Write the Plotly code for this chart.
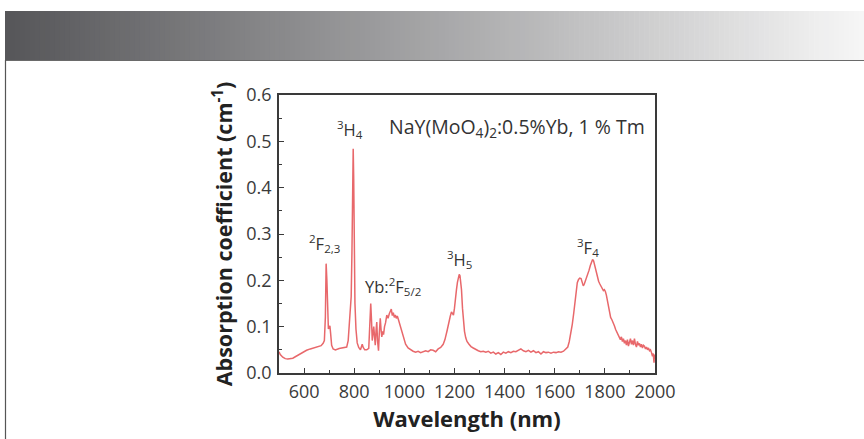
import plotly.graph_objects as go

# Absorption spectrum of NaY(MoO4)2:0.5%Yb, 1% Tm
wavelength_nm = [
    500, 505, 515, 525, 535, 545, 555, 565, 580, 595, 610, 625, 640, 655, 668, 676, 681, 685,
    688, 691, 694, 697, 700, 703, 706, 710, 716, 725, 740, 755, 770, 776, 781, 785, 788, 791,
    794, 796, 798, 800, 803, 807, 812, 818, 825, 832, 836, 842, 850, 858, 862, 866, 869, 872,
    875, 878, 881, 884, 887, 890, 893, 897, 900, 904, 907, 910, 914, 917, 921, 925, 930, 935,
    940, 944, 948, 952, 956, 960, 964, 968, 972, 976, 980, 985, 990, 997, 1005, 1015, 1025,
    1035, 1045, 1055, 1065, 1075, 1085, 1095, 1105, 1115, 1125, 1135, 1145, 1155, 1162, 1170,
    1177, 1183, 1188, 1192, 1196, 1200, 1204, 1208, 1212, 1216, 1219, 1222, 1225, 1228, 1232,
    1236, 1240, 1245, 1250, 1258, 1266, 1275, 1285, 1295, 1305, 1315, 1325, 1335, 1345, 1355,
    1365, 1375, 1385, 1395, 1405, 1415, 1425, 1435, 1445, 1455, 1465, 1475, 1485, 1495, 1505,
    1515, 1525, 1535, 1545, 1555, 1565, 1575, 1585, 1595, 1605, 1615, 1625, 1635, 1645, 1652,
    1658, 1664, 1670, 1676, 1681, 1686, 1690, 1695, 1700, 1705, 1710, 1714, 1718, 1722, 1727,
    1732, 1737, 1742, 1747, 1751, 1755, 1759, 1763, 1767, 1771, 1775, 1780, 1785, 1790, 1794,
    1798, 1802, 1806, 1810, 1814, 1818, 1823, 1828, 1833, 1838, 1843, 1848, 1853, 1858, 1862,
    1866, 1870, 1874, 1878, 1882, 1886, 1890, 1894, 1898, 1902, 1906, 1910, 1914, 1918, 1922,
    1926, 1930, 1934, 1938, 1942, 1946, 1950, 1954, 1958, 1962, 1966, 1970, 1974, 1978, 1982,
    1986, 1990, 1993, 1996, 1998, 2000,
]

absorption_cm = [
    0.046, 0.040, 0.034, 0.031, 0.030, 0.031, 0.032, 0.035, 0.040, 0.045, 0.049, 0.052, 0.054,
    0.056, 0.059, 0.064, 0.070, 0.120, 0.236, 0.200, 0.120, 0.095, 0.098, 0.102, 0.085, 0.060,
    0.052, 0.050, 0.053, 0.054, 0.056, 0.070, 0.110, 0.160, 0.165, 0.260, 0.440, 0.484, 0.420,
    0.250, 0.150, 0.095, 0.065, 0.055, 0.050, 0.062, 0.055, 0.050, 0.050, 0.053, 0.090, 0.150,
    0.115, 0.070, 0.085, 0.100, 0.080, 0.060, 0.090, 0.110, 0.070, 0.048, 0.085, 0.118, 0.095,
    0.078, 0.090, 0.083, 0.100, 0.108, 0.125, 0.118, 0.128, 0.132, 0.138, 0.124, 0.130, 0.120,
    0.125, 0.118, 0.123, 0.116, 0.108, 0.098, 0.088, 0.074, 0.062, 0.054, 0.050, 0.047, 0.045,
    0.047, 0.044, 0.046, 0.048, 0.046, 0.050, 0.049, 0.046, 0.052, 0.055, 0.062, 0.072, 0.090,
    0.110, 0.122, 0.132, 0.128, 0.125, 0.140, 0.165, 0.180, 0.196, 0.208, 0.213, 0.210, 0.198,
    0.180, 0.140, 0.110, 0.090, 0.076, 0.068, 0.062, 0.057, 0.054, 0.050, 0.048, 0.046, 0.047,
    0.045, 0.047, 0.043, 0.045, 0.041, 0.044, 0.040, 0.045, 0.043, 0.046, 0.044, 0.047, 0.046,
    0.049, 0.052, 0.048, 0.046, 0.049, 0.045, 0.048, 0.044, 0.046, 0.041, 0.046, 0.044, 0.045,
    0.043, 0.045, 0.044, 0.046, 0.045, 0.047, 0.052, 0.056, 0.068, 0.085, 0.105, 0.130, 0.155,
    0.180, 0.195, 0.202, 0.205, 0.204, 0.195, 0.188, 0.192, 0.198, 0.203, 0.210, 0.222, 0.232,
    0.240, 0.245, 0.242, 0.232, 0.222, 0.212, 0.205, 0.198, 0.192, 0.186, 0.182, 0.178, 0.180,
    0.176, 0.168, 0.155, 0.140, 0.128, 0.120, 0.115, 0.110, 0.102, 0.094, 0.088, 0.082, 0.078,
    0.072, 0.078, 0.068, 0.074, 0.064, 0.070, 0.060, 0.072, 0.058, 0.066, 0.074, 0.062, 0.070,
    0.060, 0.074, 0.062, 0.056, 0.068, 0.060, 0.064, 0.056, 0.062, 0.054, 0.060, 0.058, 0.052,
    0.056, 0.050, 0.054, 0.048, 0.050, 0.044, 0.036, 0.042, 0.022, 0.040, 0.030,
]

# Transition labels: (text, wavelength, absorption)
band_labels = ["<sup>2</sup>F<sub>2,3</sub>", "<sup>3</sup>H<sub>4</sub>",
               "Yb:<sup>2</sup>F<sub>5/2</sub>", "<sup>3</sup>H<sub>5</sub>",
               "<sup>3</sup>F<sub>4</sub>"]
band_label_x = [683, 783, 955, 1222, 1733]
band_label_y = [0.280, 0.525, 0.186, 0.246, 0.270]

sample_name = "NaY(MoO<sub>4</sub>)<sub>2</sub>:0.5%Yb, 1 % Tm"

FONT = "Open Sans"
LINE_RED = "#e8686b"
AXIS_GREY = "#3a3a3a"

W, H = 864, 439
L, R, T, B = 279, 655, 95, 373  # plot-area edges in pixels

fig = go.Figure()
fig.add_trace(go.Scatter(
    x=wavelength_nm, y=absorption_cm, mode="lines",
    line=dict(color=LINE_RED, width=1.5), hoverinfo="skip", showlegend=False,
))

for txt, xv, yv in zip(band_labels, band_label_x, band_label_y):
    fig.add_annotation(x=xv, y=yv, text=txt, showarrow=False,
                       font=dict(family=FONT, size=16.5, color="#333333"))

fig.add_annotation(x=1449, y=0.529, text=sample_name, showarrow=False,
                   font=dict(family=FONT, size=19.5, color="#333333"))


def px_to_paper_x(px):
    return (px - L) / (R - L)


def px_to_paper_y(py):
    return (B - py) / (B - T)


# Grey header band fading from dark to light
shapes = []
n_strips = 172
x_start, x_end = 5, W
top, bottom = 11, 60
c0 = (0x56, 0x56, 0x59)
c1 = (0xf6, 0xf6, 0xf6)
for i in range(n_strips):
    a = x_start + (x_end - x_start) * i / n_strips
    b = x_start + (x_end - x_start) * (i + 1) / n_strips + 0.6
    t = i / (n_strips - 1)
    col = tuple(round(c0[k] + (c1[k] - c0[k]) * t) for k in range(3))
    shapes.append(dict(
        type="rect", xref="paper", yref="paper", layer="below",
        x0=px_to_paper_x(a), x1=px_to_paper_x(b),
        y0=px_to_paper_y(bottom), y1=px_to_paper_y(top),
        fillcolor="rgb(%d,%d,%d)" % col, line=dict(width=0),
    ))
# frame lines under the band and at the left edge
shapes.append(dict(type="line", xref="paper", yref="paper",
                   x0=px_to_paper_x(5), x1=px_to_paper_x(W),
                   y0=px_to_paper_y(60.5), y1=px_to_paper_y(60.5),
                   line=dict(color="#6a6a6a", width=1.2)))
shapes.append(dict(type="line", xref="paper", yref="paper",
                   x0=px_to_paper_x(5.5), x1=px_to_paper_x(5.5),
                   y0=px_to_paper_y(60), y1=px_to_paper_y(H),
                   line=dict(color="#555555", width=1.2)))

fig.update_layout(
    width=W, height=H,
    margin=dict(l=L, r=W - R, t=T, b=H - B, pad=0),
    paper_bgcolor="white", plot_bgcolor="white",
    shapes=shapes,
    font=dict(family=FONT, color=AXIS_GREY),
)

fig.update_xaxes(
    range=[500, 2000], tickvals=[600, 800, 1000, 1200, 1400, 1600, 1800, 2000],
    ticks="inside", ticklen=5, tickwidth=1.2, tickcolor=AXIS_GREY,
    minor=dict(ticks="inside", tickvals=[500, 700, 900, 1100, 1300, 1500, 1700, 1900],
               ticklen=3, tickwidth=1, tickcolor=AXIS_GREY),
    showline=True, linecolor=AXIS_GREY, linewidth=1.5, mirror=True,
    showgrid=False, zeroline=False, ticklabelstandoff=2,
    tickfont=dict(family=FONT, size=18, color="#3a3a3a"),
    title=dict(text="<b>Wavelength (nm)</b>", standoff=3,
               font=dict(family=FONT, size=22, color="#222222")),
)
fig.update_yaxes(
    range=[0, 0.6], tickvals=[0, 0.1, 0.2, 0.3, 0.4, 0.5, 0.6], tickformat=".1f",
    ticks="inside", ticklen=5, tickwidth=1.2, tickcolor=AXIS_GREY,
    minor=dict(ticks="inside", tickvals=[0.05, 0.15, 0.25, 0.35, 0.45, 0.55],
               ticklen=3, tickwidth=1, tickcolor=AXIS_GREY),
    showline=True, linecolor=AXIS_GREY, linewidth=1.5, mirror=True,
    showgrid=False, zeroline=False, ticklabelstandoff=2,
    tickfont=dict(family=FONT, size=18, color="#3a3a3a"),
    title=dict(text="<b>Absorption coefficient (cm<sup>-1</sup>)</b>", standoff=8,
               font=dict(family=FONT, size=21.5, color="#222222")),
)

fig.write_html("out.html")
